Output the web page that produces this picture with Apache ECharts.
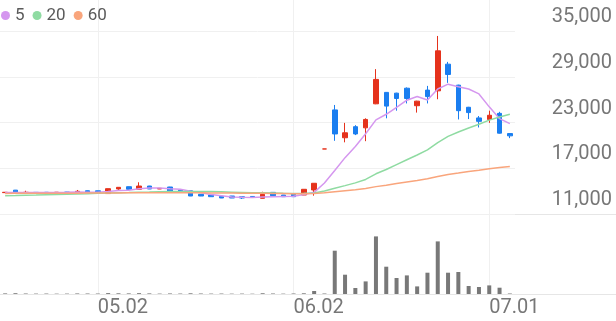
<!DOCTYPE html>
<html><head><meta charset="utf-8">
<script src="https://cdn.jsdelivr.net/npm/echarts@6/dist/echarts.min.js"></script>
<style>html,body{margin:0;padding:0;background:#fff;}#c{width:616px;height:321px;}</style>
</head><body><div id="c"></div>
<script>
const dates = ['04.18','04.21','04.22','04.23','04.24','04.25','04.28','04.29','04.30','05.02',
 '05.07','05.08','05.09','05.12','05.13','05.14','05.15','05.16','05.19','05.20',
 '05.21','05.22','05.23','05.26','05.27','05.28','05.29','05.30','06.02','06.04',
 '06.05','06.09','06.10','06.11','06.12','06.13','06.16','06.17','06.18','06.19',
 '06.20','06.23','06.24','06.25','06.26','06.27','06.30','07.01','07.02','07.03'];
const tickLabels = ['05.02','06.02','07.01'];
// [open, close, low, high]
const ohlc = [
 [13800,13850,13780,13870],[14130,13790,13780,14150],[13820,13850,13740,14050],[13840,13770,13750,13860],
 [13850,13780,13760,13860],[13800,13860,13790,13880],[13880,13800,13790,13890],[13850,13980,13840,14150],
 [14050,13790,13780,14070],[14040,13750,13740,14060],[13680,14320,13660,14340],[14280,14500,14150,14520],
 [14580,14240,14230,14600],[14240,14670,14230,15160],[14670,14280,14270,14690],[14280,14370,14270,14380],
 [14540,13930,13920,14560],[14150,13920,13910,14160],[14050,13360,13350,14060],[13580,13360,13350,13590],
 [13490,13270,13260,13500],[13320,13100,13090,13330],[13360,13100,13090,13370],[13270,13100,12970,13280],
 [13300,13190,13180,13310],[13060,13580,13050,13920],[13840,13400,13390,13850],[13490,13270,13260,13500],
 [13580,13270,13260,13590],[13490,14240,13480,14250],[14150,15030,13400,15030],[19530,19530,19530,19530],
 [24650,21500,20600,25300],[21000,21650,20400,22950],[22450,21500,21350,22650],[22300,23400,20550,23550],
 [25450,28650,25400,30000],[26950,25150,23550,27000],[26850,26150,24550,26900],[27500,26150,25500,27600],
 [25200,25800,24300,25850],[27250,26400,25500,27800],[27150,32400,26050,34350],[30650,29300,28200,30950],
 [27900,24550,23400,27950],[25000,24300,23450,25050],[23600,23150,22350,23850],[23400,23950,22950,24550],
 [24200,21600,21550,24400],[21550,21250,20950,21550]
];
const volumes = [60000,80000,50000,40000,45000,35000,40000,55000,50000,45000,
 90000,70000,60000,85000,60000,40000,55000,45000,70000,50000,
 40000,45000,35000,40000,30000,75000,50000,35000,50000,70000,
 300000,50000,4330000,1930000,600000,1260000,5760000,2730000,1600000,1860000,
 760000,2130000,5260000,2130000,2200000,800000,700000,860000,630000,50000];
const ma5 = [13820,13810,13830,13826,13825,13833,13843,13869,13864,13851,
 13938,14068,14121,14297,14402,14412,14297,14234,13972,13788,
 13568,13403,13238,13186,13152,13214,13274,13308,13342,13552,
 13841,15067,16712,18390,19840,21519,23346,24081,24983,25920,
 26400,25945,27396,28025,27700,27393,26747,25052,23504,22848];
const ma20 = [13380,13410,13455,13480,13525,13560,13600,13635,13670,13715,
 13745,13790,13815,13860,13885,13915,13935,13950,13960,13966,
 13937,13903,13865,13829,13798,13783,13760,13725,13699,13723,
 13758,14010,14372,14722,15082,15535,16272,16834,17475,18116,
 18743,19408,20374,21185,21753,22288,22776,23310,23725,24077];
const ma60 = [13700,13705,13710,13715,13720,13725,13730,13735,13740,13745,
 13755,13765,13775,13785,13795,13800,13800,13795,13790,13780,
 13770,13760,13745,13730,13715,13705,13690,13675,13660,13670,
 13690,13790,13920,14050,14180,14340,14590,14780,14990,15200,
 15400,15610,15920,16180,16370,16570,16750,16940,17090,17240];
const priceMin = 11000, priceMax = 35000, priceStep = 6000;
const volMax = 7900000;

const FONT = 'Roboto, sans-serif';
const UP = '#e5321c', DOWN = '#1a7ef0';
const tickSet = new Set(tickLabels);
const chart = echarts.init(document.getElementById('c'));
const hidden = {axisLine:{show:false},axisTick:{show:false},axisLabel:{show:false},splitLine:{show:false}};
chart.setOption({
  animation:false,
  textStyle:{fontFamily:FONT},
  legend:{left:1,top:7,padding:0,icon:'circle',itemWidth:9,itemHeight:9,itemGap:8,selectedMode:false,
    textStyle:{fontSize:17,color:'#5a5a5a',fontFamily:FONT},data:['5','20','60']},
  grid:[
    {left:0,top:31,width:515,height:183},
    {left:0,top:215,width:515,height:79},
    {left:5.15,top:0,width:504.7,height:294}
  ],
  xAxis:[
    Object.assign({type:'category',gridIndex:0,data:dates,boundaryGap:true},hidden),
    Object.assign({type:'category',gridIndex:1,data:dates,boundaryGap:true},hidden),
    {type:'category',gridIndex:2,data:dates,boundaryGap:false,
     axisLine:{show:false},axisTick:{show:false},
     axisLabel:{show:true,interval:(i,v)=>tickSet.has(v),align:'left',fontSize:20,color:'#777',margin:4,fontFamily:FONT},
     splitLine:{show:true,interval:(i,v)=>tickSet.has(v),lineStyle:{color:'#f0f0f0',width:1}}}
  ],
  yAxis:[
    {type:'value',gridIndex:0,position:'right',min:priceMin,max:priceMax,interval:priceStep,
     axisLine:{show:false},axisTick:{show:false},
     splitLine:{show:true,lineStyle:{color:'#f0f0f0',width:1}},
     axisLabel:{formatter:v=>v.toLocaleString('en-US'),align:'right',verticalAlign:'bottom',margin:97,
       fontSize:20,color:'#777',padding:[0,0,4,0],fontFamily:FONT}},
    Object.assign({type:'value',gridIndex:1,min:0,max:volMax},hidden),
    Object.assign({type:'value',gridIndex:2,min:0,max:1},hidden)
  ],
  graphic:[
    {type:'line',shape:{x1:0,y1:214.5,x2:616,y2:214.5},style:{stroke:'#e6e6e6',lineWidth:1},z:0},
    {type:'line',shape:{x1:0,y1:294.5,x2:616,y2:294.5},style:{stroke:'#e6e6e6',lineWidth:1},z:0}
  ],
  series:[
    {type:'candlestick',xAxisIndex:0,yAxisIndex:0,data:ohlc,barWidth:5,
     itemStyle:{color:UP,color0:DOWN,borderColor:UP,borderColor0:DOWN,borderWidth:1}},
    {name:'5',type:'line',xAxisIndex:0,yAxisIndex:0,data:ma5,symbol:'none',
     lineStyle:{color:'#d597ef',width:1.5},itemStyle:{color:'#d597ef'}},
    {name:'20',type:'line',xAxisIndex:0,yAxisIndex:0,data:ma20,symbol:'none',
     lineStyle:{color:'#8fdba2',width:1.5},itemStyle:{color:'#8fdba2'}},
    {name:'60',type:'line',xAxisIndex:0,yAxisIndex:0,data:ma60,symbol:'none',
     lineStyle:{color:'#f9a57c',width:1.5},itemStyle:{color:'#f9a57c'}},
    {type:'bar',xAxisIndex:1,yAxisIndex:1,data:volumes,barWidth:4,itemStyle:{color:'#787878'}}
  ]
});
</script>
</body></html>
